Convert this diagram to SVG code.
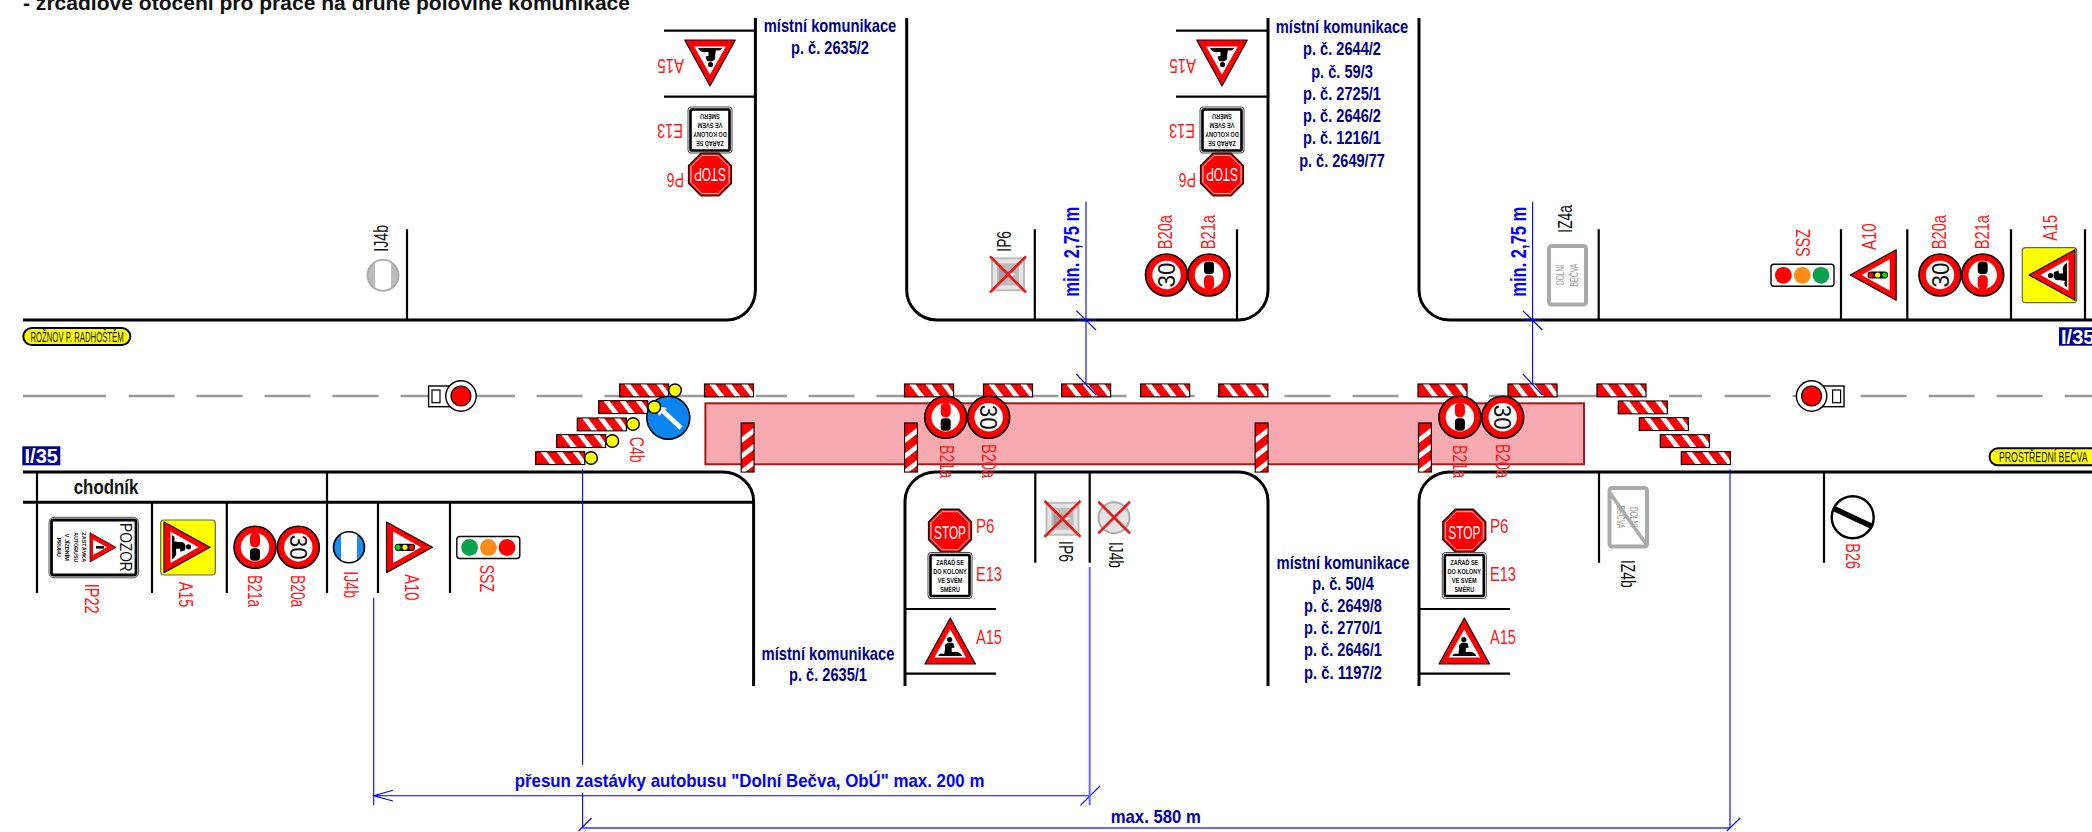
<svg xmlns="http://www.w3.org/2000/svg" xmlns:xlink="http://www.w3.org/1999/xlink" width="2092" height="832" viewBox="0 0 2092 832">
<style>
text{font-family:"Liberation Sans",Arial,sans-serif}
.l{font-size:20px;fill:#ff1a1a}
.k{font-size:20px;fill:#111}
.n{font-size:18.500px;font-weight:bold;fill:#000090;text-anchor:middle}
.m{font-size:21.500px;font-weight:bold;fill:#0000ff}
.e{font-size:7px;font-weight:bold;fill:#111;text-anchor:middle}
.s{font-size:18px;fill:#fff;text-anchor:middle}
.t{font-size:24px;fill:#111;text-anchor:middle}
.road{fill:none;stroke:#000;stroke-width:3}
.pole{fill:none;stroke:#000;stroke-width:2.2}
.dash{fill:none;stroke:#999;stroke-width:2.6}
.dim{fill:none;stroke:#0000ff;stroke-width:1.1}
.dim2{fill:none;stroke:#6666ff;stroke-width:2}
.x{fill:none;stroke:#f01414;stroke-width:2.6}
.lamp{fill:#ffff00;stroke:#000;stroke-width:1.4}
.ring{fill:#f00;stroke:#000;stroke-width:1.6}
.gs{font-size:10px;fill:#999;text-anchor:middle}
</style>
<defs>
<g id="bar"><rect x="0" y="0" width="49" height="12.8" fill="#f00" stroke="#000" stroke-width="1.2"/><path d="M5 .6H11L20 12.2H14ZM21 .6H27L36 12.2H30ZM37 .6H43L48.4 8V12.2H46Z" fill="#fff"/></g>
<g id="ring"><circle r="21" class="ring"/><circle r="14.200" fill="#fff"/></g>
<g id="b21"><use xlink:href="#ring" href="#ring"/><rect x="1" y="-5" width="12.500" height="10" rx="3.500" fill="#000"/><rect x="-14.500" y="-5" width="14.500" height="10" rx="4.500" fill="#f00"/></g>
<path id="digger" d="M-12 15C-11 12-8 12-6 13L-5 7C-6 4-4 2-1 1.500L3 2 4.500 6.500 1.500 7 1.500 11 4 11C7 10 11 12 12 15Z" fill="#000"/>
<g id="tri"><polygon points="0,-23 25.3,23 -25.3,23" fill="#f00" stroke="#111" stroke-width="1.2" stroke-linejoin="round"/><polygon points="0,-11.5 15.8,16.5 -15.8,16.5" fill="#fff"/></g>
<g id="a15"><use xlink:href="#tri" href="#tri"/><use xlink:href="#digger" href="#digger"/><circle cx="-.5" cy="-1.5" r="2.6" fill="#000"/></g>
<g id="a10"><use xlink:href="#tri" href="#tri"/><rect x="-3.6" y="-5.6" width="7.2" height="20.4" rx="3.4" fill="#000"/><circle cy="-2.2" r="2.6" fill="#f00"/><circle cy="4.5" r="2.6" fill="#ff0"/><circle cy="11.5" r="2.6" fill="#0d0"/></g>
<g id="oct"><polygon points="-9,-21.4 9,-21.4 21.4,-9 21.4,9 9,21.4 -9,21.4 -21.4,9 -21.4,-9" fill="#f00" stroke="#111" stroke-width="1.4"/><polygon points="-8,-19 8,-19 19,-8 19,8 8,19 -8,19 -19,8 -19,-8" fill="none" stroke="#fff" stroke-width=".8"/></g>
<g id="ebox"><rect x="-22" y="-23" width="44" height="46" rx="3" fill="#fff" stroke="#444" stroke-width="1"/><rect x="-19.5" y="-20.5" width="39" height="41" rx="1" fill="#fff" stroke="#000" stroke-width="2.6"/></g>
<g id="jside"><path d="M-8 -13.3A15.5 15.5 0 0 0-8 13.3ZM8 -13.3A15.5 15.5 0 0 1 8 13.3Z"/></g>
<g id="ip6"><rect x="-16" y="-16" width="32" height="32" fill="#e4e4e4" stroke="#bbb" stroke-width="2"/><rect x="-11" y="-11" width="22" height="22" fill="#bbb"/><path d="M-9 -8L8 0-9 8Z" fill="#a0a0a0"/><path d="M2 -2L8 0 2 2Z" fill="#fff"/><path class="x" d="M-18 -18L18 18M18 -18L-18 18"/></g>
<g id="lightbox"><rect x="-31.5" y="-11" width="63" height="22" rx="3" fill="#fff" stroke="#000" stroke-width="1.4"/></g>
</defs>

<text x="23" y="10" font-size="20" font-weight="bold" fill="#111" textLength="607" lengthAdjust="spacingAndGlyphs">- zrcadlové otočení pro práce na druhé polovině komunikace</text>

<g id="road">
<path class="road" d="M23 320H727A28.4 30 0 0 0 755.4 290V18"/>
<path class="road" d="M906.7 18V290A30 30 0 0 0 936.6 320H1238A30 30 0 0 0 1268 290V18"/>
<path class="road" d="M1419 18V290A31 30 0 0 0 1450 320H2092"/>
<path class="road" d="M23 472H722A31 29 0 0 1 753.6 501V686"/>
<path class="road" d="M905 686V501A31 29 0 0 1 936 472H1238A30 29 0 0 1 1268 501V686"/>
<path class="road" d="M1419 686V501A31 29 0 0 1 1450 472H2092"/>
<path class="road" d="M23 502.3H753"/>
<path class="dash" d="M23 396H106M128.600 396H174.600M196.500 396H242.500M264.500 396H310.500M332.500 396H378.500M400.500 396H432M476 396H515M536.500 396H582.500M604.500 396H650.500M672.500 396H718.500M756 396H787M808.500 396H854.500M876.500 396H922.500M944.500 396H990.500M1012.500 396H1058.500M1080.500 396H1126.500M1148.500 396H1194.500M1216.500 396H1262.500M1284.500 396H1330.500M1352.500 396H1398.500M1420.500 396H1466.500M1489 396H1597M1668.800 396H1702M1724.600 396H1770.600M1792.600 396H1800M1860.600 396H1906.600M1928.600 396H1974.600M1996.600 396H2042.600M2064.600 396H2092"/>
<path class="pole" d="M407 229.300V320M1034.800 229.300V320M1237 229.300V320M1598.700 229.300V320M1841 229.300V320M1907.300 229.300V320M2011 229.300V320M2085 229.300V320"/>
<path class="pole" d="M664 30.700H755M664 96.700H755M1176 30.700H1267M1176 96.700H1267"/>
<path class="pole" d="M37 472V593M327 472V593M152 502V593M226.800 502V593M378 502V593M450 502V593"/>
<path class="pole" d="M1035.300 472V562.700M1089.700 472V562.700M1599 472V562.700M1824 472V562.700"/>
<path class="pole" d="M905 609H996M905 673.700H996M1419 609H1510M1419 673.700H1510"/>
</g>

<g id="zone"><rect x="705.400" y="403.300" width="878.600" height="61" fill="#f6aab0" stroke="#a01b1b" stroke-width="2"/></g>

<g id="barriers">
<use xlink:href="#bar" href="#bar" x="619.600" y="384"/><use xlink:href="#bar" href="#bar" x="704.500" y="384"/><use xlink:href="#bar" href="#bar" x="904.500" y="384"/><use xlink:href="#bar" href="#bar" x="983.500" y="384"/><use xlink:href="#bar" href="#bar" x="1061.600" y="384"/><use xlink:href="#bar" href="#bar" x="1140.600" y="384"/><use xlink:href="#bar" href="#bar" x="1218.800" y="384"/><use xlink:href="#bar" href="#bar" x="1418" y="384"/><use xlink:href="#bar" href="#bar" x="1508" y="384"/><use xlink:href="#bar" href="#bar" x="1597" y="384"/>
<use xlink:href="#bar" href="#bar" x="598.700" y="400.700"/><use xlink:href="#bar" href="#bar" x="577.300" y="418"/><use xlink:href="#bar" href="#bar" x="556.700" y="434.700"/><use xlink:href="#bar" href="#bar" x="535.700" y="451.700"/>
<use xlink:href="#bar" href="#bar" x="1618.300" y="401"/><use xlink:href="#bar" href="#bar" x="1639.300" y="417.700"/><use xlink:href="#bar" href="#bar" x="1660.300" y="434.700"/><use xlink:href="#bar" href="#bar" x="1681.300" y="451.700"/>
<use xlink:href="#bar" href="#bar" transform="translate(754,423) rotate(90)"/><use xlink:href="#bar" href="#bar" transform="translate(917.400,423) rotate(90)"/><use xlink:href="#bar" href="#bar" transform="translate(1268,423) rotate(90)"/><use xlink:href="#bar" href="#bar" transform="translate(1431.300,423) rotate(90)"/>
</g>

<g id="sign-c4b">
<circle cx="668.300" cy="417.700" r="21.500" fill="#0a84f0" stroke="#000" stroke-width="1.6"/>
<path d="M681 428L663 411" stroke="#fff" stroke-width="4.500" fill="none"/><path d="M656 406L667 408 659 416Z" fill="#fff"/>
<circle class="lamp" cx="675" cy="390.300" r="6.300"/><circle class="lamp" cx="654.300" cy="407" r="6.300"/><circle class="lamp" cx="633" cy="424" r="6.300"/><circle class="lamp" cx="612.300" cy="441" r="6.300"/><circle class="lamp" cx="591" cy="458" r="6.300"/>
<text class="l" transform="translate(630,436.700) rotate(90)" textLength="26" lengthAdjust="spacingAndGlyphs">C4b</text>
</g>

<g id="roadlabel-left"><rect x="23.300" y="328" width="107" height="17" rx="8.500" fill="#ff0" stroke="#000" stroke-width="2"/><text x="30.400" y="342" font-size="14.500" fill="#111" textLength="93.300" lengthAdjust="spacingAndGlyphs">ROŽNOV P. RADHOŠTĚM</text></g>
<g id="roadlabel-right"><rect x="1989.500" y="448.300" width="110" height="17" rx="8.500" fill="#ff0" stroke="#000" stroke-width="2"/><text x="1999" y="462" font-size="14.500" fill="#111" textLength="88.500" lengthAdjust="spacingAndGlyphs">PROSTŘEDNÍ BEČVA</text></g>
<g id="roadnum-left"><rect x="22.300" y="446.300" width="38" height="19" fill="#000090"/><text x="24.500" y="463" font-size="21" font-weight="bold" fill="#fff" textLength="33.500" lengthAdjust="spacingAndGlyphs">I/35</text></g>
<g id="roadnum-right"><rect x="2059" y="327.300" width="33" height="18.400" fill="#000090"/><text x="2061" y="344" font-size="21" font-weight="bold" fill="#fff" textLength="33.500" lengthAdjust="spacingAndGlyphs">I/35</text></g>

<g id="light-left"><rect x="428.600" y="386" width="28" height="20.700" fill="#fff" stroke="#000" stroke-width="1.400"/><circle cx="461" cy="396" r="15.200" fill="#fff" stroke="#000" stroke-width="1.400"/><path d="M452 387H456V405H452Z" fill="#fff"/><rect x="432" y="390" width="8" height="12.700" fill="#fff" stroke="#000" stroke-width="1.200"/><circle cx="461" cy="396" r="10" fill="#f00" stroke="#000" stroke-width="1.200"/></g>
<g id="light-right"><rect x="1816" y="386" width="28" height="20.700" fill="#fff" stroke="#000" stroke-width="1.400"/><circle cx="1811.600" cy="396" r="15.200" fill="#fff" stroke="#000" stroke-width="1.400"/><path d="M1816 387H1821V405H1816Z" fill="#fff"/><rect x="1832.600" y="390" width="8" height="12.700" fill="#fff" stroke="#000" stroke-width="1.200"/><circle cx="1811.600" cy="396" r="10" fill="#f00" stroke="#000" stroke-width="1.200"/></g>

<g id="sign-ij4b-top"><g transform="translate(383,275.300)" fill="#bbb"><use xlink:href="#jside" href="#jside"/><circle r="15.500" fill="none" stroke="#aaa" stroke-width="1.800"/></g><text class="k" transform="translate(387.500,251.700) rotate(-90)" textLength="26.700" lengthAdjust="spacingAndGlyphs">IJ4b</text></g>

<g id="sign-ip6-top"><use xlink:href="#ip6" href="#ip6" transform="translate(1008,274.300)"/><text class="k" transform="translate(1011.200,251.700) rotate(-90)" textLength="20.700" lengthAdjust="spacingAndGlyphs">IP6</text></g>

<g id="sign-b20a-top1"><g transform="translate(1166.500,275)"><use xlink:href="#ring" href="#ring"/><text class="t" transform="rotate(-90) translate(0,8.500)" textLength="25" lengthAdjust="spacingAndGlyphs">30</text></g><text class="l" transform="translate(1172.300,249.300) rotate(-90)" textLength="34.300" lengthAdjust="spacingAndGlyphs">B20a</text></g>
<g id="sign-b21a-top1"><use xlink:href="#b21" href="#b21" transform="translate(1209,275) rotate(-90)"/><text class="l" transform="translate(1214.700,249.300) rotate(-90)" textLength="34.300" lengthAdjust="spacingAndGlyphs">B21a</text></g>

<g id="sign-iz4a"><rect x="1549" y="246" width="37" height="58.500" rx="2.500" fill="#fff" stroke="#aaa" stroke-width="4"/><text class="gs" transform="translate(1564,275) rotate(-90)" textLength="20" lengthAdjust="spacingAndGlyphs">DOLNÍ</text><text class="gs" transform="translate(1578,275) rotate(-90)" textLength="23" lengthAdjust="spacingAndGlyphs">BEČVA</text><text class="k" transform="translate(1572,232.700) rotate(-90)" textLength="27.700" lengthAdjust="spacingAndGlyphs">IZ4a</text></g>

<g id="sign-ssz-top"><use xlink:href="#lightbox" href="#lightbox" transform="translate(1802.500,275.300)"/><circle cx="1783.300" cy="275.300" r="8.400" fill="#f00"/><circle cx="1802.300" cy="275.300" r="8.400" fill="#ff8c14"/><circle cx="1821" cy="275.300" r="8.400" fill="#0aa050"/><text class="l" transform="translate(1810,256.700) rotate(-90)" textLength="27.700" lengthAdjust="spacingAndGlyphs">SSZ</text></g>
<g id="sign-a10-top"><use xlink:href="#a10" href="#a10" transform="translate(1873.200,275) rotate(-90)"/><text class="l" transform="translate(1876,250) rotate(-90)" textLength="26.700" lengthAdjust="spacingAndGlyphs">A10</text></g>
<g id="sign-b20a-top2"><g transform="translate(1940,275)"><use xlink:href="#ring" href="#ring"/><text class="t" transform="rotate(-90) translate(0,8.500)" textLength="25" lengthAdjust="spacingAndGlyphs">30</text></g><text class="l" transform="translate(1946,249.300) rotate(-90)" textLength="34.300" lengthAdjust="spacingAndGlyphs">B20a</text></g>
<g id="sign-b21a-top2"><use xlink:href="#b21" href="#b21" transform="translate(1982.700,275) rotate(-90)"/><text class="l" transform="translate(1989,249.300) rotate(-90)" textLength="34.300" lengthAdjust="spacingAndGlyphs">B21a</text></g>
<g id="sign-a15-top"><rect x="2022.300" y="247.700" width="54.400" height="55" rx="3.500" fill="#ff0" stroke="#665" stroke-width="1.200"/><use xlink:href="#a15" href="#a15" transform="translate(2052,275) rotate(-90)"/><text class="l" transform="translate(2057.300,240.700) rotate(-90)" textLength="25.700" lengthAdjust="spacingAndGlyphs">A15</text></g>

<g id="sign-a15-ul"><use xlink:href="#a15" href="#a15" transform="translate(710,63) rotate(180)"/><text class="l" transform="translate(684,59.300) rotate(180)" textLength="26.700" lengthAdjust="spacingAndGlyphs">A15</text></g>
<g id="sign-e13-ul"><g transform="translate(710,130) rotate(180)"><use xlink:href="#ebox" href="#ebox"/><text class="e" y="-11" textLength="27.700" lengthAdjust="spacingAndGlyphs">ZAŘAĎ SE</text><text class="e" y="-2" textLength="33.500" lengthAdjust="spacingAndGlyphs">DO KOLONY</text><text class="e" y="7" textLength="25" lengthAdjust="spacingAndGlyphs">VE SVÉM</text><text class="e" y="16" textLength="19.600" lengthAdjust="spacingAndGlyphs">SMĚRU</text></g><text class="l" transform="translate(683,124.300) rotate(180)" textLength="26" lengthAdjust="spacingAndGlyphs">E13</text></g>
<g id="sign-p6-ul"><g transform="translate(710,174.500) rotate(180)"><use xlink:href="#oct" href="#oct"/><text class="s" y="7" textLength="32" lengthAdjust="spacingAndGlyphs">STOP</text></g><text class="l" transform="translate(684,172.700) rotate(180)" textLength="17.300" lengthAdjust="spacingAndGlyphs">P6</text></g>

<g id="sign-a15-ur"><use xlink:href="#a15" href="#a15" transform="translate(1222,63) rotate(180)"/><text class="l" transform="translate(1196,59.300) rotate(180)" textLength="26.700" lengthAdjust="spacingAndGlyphs">A15</text></g>
<g id="sign-e13-ur"><g transform="translate(1222,130) rotate(180)"><use xlink:href="#ebox" href="#ebox"/><text class="e" y="-11" textLength="27.700" lengthAdjust="spacingAndGlyphs">ZAŘAĎ SE</text><text class="e" y="-2" textLength="33.500" lengthAdjust="spacingAndGlyphs">DO KOLONY</text><text class="e" y="7" textLength="25" lengthAdjust="spacingAndGlyphs">VE SVÉM</text><text class="e" y="16" textLength="19.600" lengthAdjust="spacingAndGlyphs">SMĚRU</text></g><text class="l" transform="translate(1195,124.300) rotate(180)" textLength="26" lengthAdjust="spacingAndGlyphs">E13</text></g>
<g id="sign-p6-ur"><g transform="translate(1222,174.500) rotate(180)"><use xlink:href="#oct" href="#oct"/><text class="s" y="7" textLength="32" lengthAdjust="spacingAndGlyphs">STOP</text></g><text class="l" transform="translate(1196,172.700) rotate(180)" textLength="17.300" lengthAdjust="spacingAndGlyphs">P6</text></g>

<g id="sign-b21a-z1"><use xlink:href="#b21" href="#b21" transform="translate(945.700,417.300) rotate(90)"/><text class="l" transform="translate(939.500,445) rotate(90)" textLength="33" lengthAdjust="spacingAndGlyphs">B21a</text></g>
<g id="sign-b20a-z1"><g transform="translate(988.700,417.300)"><use xlink:href="#ring" href="#ring"/><text class="t" transform="rotate(90) translate(0,8.500)" textLength="25" lengthAdjust="spacingAndGlyphs">30</text></g><text class="l" transform="translate(981.700,444) rotate(90)" textLength="34" lengthAdjust="spacingAndGlyphs">B20a</text></g>
<g id="sign-b21a-z2"><use xlink:href="#b21" href="#b21" transform="translate(1459.900,417.300) rotate(90)"/><text class="l" transform="translate(1453.200,445) rotate(90)" textLength="33" lengthAdjust="spacingAndGlyphs">B21a</text></g>
<g id="sign-b20a-z2"><g transform="translate(1502.700,417.300)"><use xlink:href="#ring" href="#ring"/><text class="t" transform="rotate(90) translate(0,8.500)" textLength="25" lengthAdjust="spacingAndGlyphs">30</text></g><text class="l" transform="translate(1495.600,444) rotate(90)" textLength="34" lengthAdjust="spacingAndGlyphs">B20a</text></g>

<g id="sign-ip22"><rect x="49" y="517.300" width="89.500" height="60.500" rx="5" fill="#fff" stroke="#555" stroke-width="1"/><rect x="51.500" y="520" width="84.500" height="55" rx="2" fill="#fff" stroke="#000" stroke-width="2.800"/>
<polygon points="116,547.300 90,532.700 90,562" fill="#f00" stroke="#111" stroke-width=".8" stroke-linejoin="round"/><polygon points="107,547.300 93,539.500 93,555" fill="#fff"/><path d="M96 546H104V548.600H96Z" fill="#000"/>
<text font-size="16" fill="#111" transform="translate(120,523) rotate(90)" textLength="48.700" lengthAdjust="spacingAndGlyphs">POZOR</text>
<text class="e" style="font-size:6px" transform="translate(82,547.300) rotate(90)" textLength="30" lengthAdjust="spacingAndGlyphs">ZASTÁVKA</text><text class="e" style="font-size:6px" transform="translate(73.500,547.300) rotate(90)" textLength="30" lengthAdjust="spacingAndGlyphs">AUTOBUSU</text><text class="e" style="font-size:6px" transform="translate(65,547.300) rotate(90)" textLength="27" lengthAdjust="spacingAndGlyphs">V JÍZDNÍM</text><text class="e" style="font-size:6px" transform="translate(57,547.300) rotate(90)" textLength="19" lengthAdjust="spacingAndGlyphs">PRUHU</text>
<text class="l" transform="translate(85,583.700) rotate(90)" textLength="30" lengthAdjust="spacingAndGlyphs">IP22</text></g>
<g id="sign-a15-left"><rect x="160.700" y="520" width="54.600" height="55" rx="3.500" fill="#ff0" stroke="#665" stroke-width="1.200"/><use xlink:href="#a15" href="#a15" transform="translate(187,547.300) rotate(90)"/><text class="l" transform="translate(179,581.700) rotate(90)" textLength="25.700" lengthAdjust="spacingAndGlyphs">A15</text></g>
<g id="sign-b21a-left"><use xlink:href="#b21" href="#b21" transform="translate(255,547.300) rotate(90)"/><text class="l" transform="translate(248,575) rotate(90)" textLength="32.300" lengthAdjust="spacingAndGlyphs">B21a</text></g>
<g id="sign-b20a-left"><g transform="translate(298.300,547.300)"><use xlink:href="#ring" href="#ring"/><text class="t" transform="rotate(90) translate(0,8.500)" textLength="25" lengthAdjust="spacingAndGlyphs">30</text></g><text class="l" transform="translate(291,575) rotate(90)" textLength="32.300" lengthAdjust="spacingAndGlyphs">B20a</text></g>
<g id="sign-ij4b-left"><g transform="translate(349,547.300)" fill="#1b8cf0"><circle r="15.500" fill="#fff"/><use xlink:href="#jside" href="#jside"/><circle r="15.500" fill="none" stroke="#000" stroke-width="1.600"/></g><text class="l" transform="translate(344,571.300) rotate(90)" textLength="26.700" lengthAdjust="spacingAndGlyphs">IJ4b</text></g>
<g id="sign-a10-left"><use xlink:href="#a10" href="#a10" transform="translate(409.500,547.300) rotate(90)"/><text class="l" transform="translate(405,574.300) rotate(90)" textLength="26" lengthAdjust="spacingAndGlyphs">A10</text></g>
<g id="sign-ssz-left"><use xlink:href="#lightbox" href="#lightbox" transform="translate(488.300,547.500)"/><circle cx="469.600" cy="547.500" r="8.400" fill="#0aa050"/><circle cx="488.400" cy="547.500" r="8.400" fill="#ff8c14"/><circle cx="507" cy="547.500" r="8.400" fill="#f00"/><text class="l" transform="translate(480,564.700) rotate(90)" textLength="27.300" lengthAdjust="spacingAndGlyphs">SSZ</text></g>

<g id="sign-p6-m"><g transform="translate(950,530.700)"><use xlink:href="#oct" href="#oct"/><text class="s" y="8" textLength="32" lengthAdjust="spacingAndGlyphs">STOP</text></g><text class="l" x="976" y="532.700" textLength="18.500" lengthAdjust="spacingAndGlyphs">P6</text></g>
<g id="sign-e13-m"><g transform="translate(950,575.500)"><use xlink:href="#ebox" href="#ebox"/><text class="e" y="-10.500" textLength="27.700" lengthAdjust="spacingAndGlyphs">ZAŘAĎ SE</text><text class="e" y="-1.500" textLength="33.500" lengthAdjust="spacingAndGlyphs">DO KOLONY</text><text class="e" y="7.500" textLength="25" lengthAdjust="spacingAndGlyphs">VE SVÉM</text><text class="e" y="16.500" textLength="19.600" lengthAdjust="spacingAndGlyphs">SMĚRU</text></g><text class="l" x="976" y="581" textLength="26" lengthAdjust="spacingAndGlyphs">E13</text></g>
<g id="sign-a15-m"><use xlink:href="#a15" href="#a15" transform="translate(950.200,641)"/><text class="l" x="976" y="644.300" textLength="26" lengthAdjust="spacingAndGlyphs">A15</text></g>

<g id="sign-p6-r"><g transform="translate(1464.300,530.700)"><use xlink:href="#oct" href="#oct"/><text class="s" y="8" textLength="32" lengthAdjust="spacingAndGlyphs">STOP</text></g><text class="l" x="1490" y="532.700" textLength="18.500" lengthAdjust="spacingAndGlyphs">P6</text></g>
<g id="sign-e13-r"><g transform="translate(1464.300,575.500)"><use xlink:href="#ebox" href="#ebox"/><text class="e" y="-10.500" textLength="27.700" lengthAdjust="spacingAndGlyphs">ZAŘAĎ SE</text><text class="e" y="-1.500" textLength="33.500" lengthAdjust="spacingAndGlyphs">DO KOLONY</text><text class="e" y="7.500" textLength="25" lengthAdjust="spacingAndGlyphs">VE SVÉM</text><text class="e" y="16.500" textLength="19.600" lengthAdjust="spacingAndGlyphs">SMĚRU</text></g><text class="l" x="1490" y="581" textLength="26" lengthAdjust="spacingAndGlyphs">E13</text></g>
<g id="sign-a15-r"><use xlink:href="#a15" href="#a15" transform="translate(1464.300,641)"/><text class="l" x="1490" y="644.300" textLength="26" lengthAdjust="spacingAndGlyphs">A15</text></g>

<g id="sign-ip6-low"><use xlink:href="#ip6" href="#ip6" transform="translate(1062.500,518.800)"/><text class="k" transform="translate(1058.500,541) rotate(90)" textLength="21" lengthAdjust="spacingAndGlyphs">IP6</text></g>
<g id="sign-ij4b-low"><circle cx="1114" cy="517.700" r="15.500" fill="#e4e4e4" stroke="#aaa" stroke-width="2"/><path class="x" d="M1098.300 501.700L1130 533.300M1130 501.700L1098.300 533.300"/><text class="k" transform="translate(1108.500,542) rotate(90)" textLength="26" lengthAdjust="spacingAndGlyphs">IJ4b</text></g>
<g id="sign-iz4b"><rect x="1609.500" y="488" width="37.500" height="58.500" rx="2.500" fill="#fff" stroke="#aaa" stroke-width="4"/><text class="gs" transform="translate(1630,517) rotate(90)" textLength="20" lengthAdjust="spacingAndGlyphs">DOLNÍ</text><text class="gs" transform="translate(1617,517) rotate(90)" textLength="23" lengthAdjust="spacingAndGlyphs">BEČVA</text><path d="M1610 493L1646.700 545" stroke="#aaa" stroke-width="3.500" fill="none"/><text class="k" transform="translate(1621,560) rotate(90)" textLength="27.700" lengthAdjust="spacingAndGlyphs">IZ4b</text></g>
<g id="sign-b26"><circle cx="1852.700" cy="517.300" r="21" fill="#fff" stroke="#000" stroke-width="2.400"/><path d="M1833.300 508.300L1872.700 526.700" stroke="#000" stroke-width="5.500" fill="none"/><text class="l" transform="translate(1845.700,543.300) rotate(90)" textLength="25.700" lengthAdjust="spacingAndGlyphs">B26</text></g>

<g id="label-mk-2635-2"><text class="n" x="830" y="32.300" textLength="132.600" lengthAdjust="spacingAndGlyphs">místní komunikace</text><text class="n" x="830" y="54.300" textLength="78" lengthAdjust="spacingAndGlyphs">p. č. 2635/2</text></g>
<g id="label-mk-2644"><text class="n" x="1342" y="33.300" textLength="132.600" lengthAdjust="spacingAndGlyphs">místní komunikace</text><text class="n" x="1342" y="55" textLength="78" lengthAdjust="spacingAndGlyphs">p. č. 2644/2</text><text class="n" x="1342" y="77.700" textLength="61.600" lengthAdjust="spacingAndGlyphs">p. č. 59/3</text><text class="n" x="1342" y="100" textLength="78" lengthAdjust="spacingAndGlyphs">p. č. 2725/1</text><text class="n" x="1342" y="121.700" textLength="78" lengthAdjust="spacingAndGlyphs">p. č. 2646/2</text><text class="n" x="1342" y="144.300" textLength="78" lengthAdjust="spacingAndGlyphs">p. č. 1216/1</text><text class="n" x="1342" y="166.700" textLength="85.700" lengthAdjust="spacingAndGlyphs">p. č. 2649/77</text></g>
<g id="label-mk-2635-1"><text class="n" x="828" y="660.300" textLength="133" lengthAdjust="spacingAndGlyphs">místní komunikace</text><text class="n" x="828" y="681.300" textLength="78" lengthAdjust="spacingAndGlyphs">p. č. 2635/1</text></g>
<g id="label-mk-50-4"><text class="n" x="1343" y="568.700" textLength="133" lengthAdjust="spacingAndGlyphs">místní komunikace</text><text class="n" x="1343" y="589.700" textLength="61.600" lengthAdjust="spacingAndGlyphs">p. č. 50/4</text><text class="n" x="1343" y="612" textLength="78" lengthAdjust="spacingAndGlyphs">p. č. 2649/8</text><text class="n" x="1343" y="634.300" textLength="78" lengthAdjust="spacingAndGlyphs">p. č. 2770/1</text><text class="n" x="1343" y="656.300" textLength="78" lengthAdjust="spacingAndGlyphs">p. č. 2646/1</text><text class="n" x="1343" y="678.700" textLength="78" lengthAdjust="spacingAndGlyphs">p. č. 1197/2</text></g>
<g id="label-chodnik"><text x="73.700" y="494.300" font-size="20" font-weight="bold" fill="#111" textLength="64.700" lengthAdjust="spacingAndGlyphs">chodník</text></g>

<g id="connectors">
<path class="dim" d="M1086 201.700V384M1076.300 310.700L1096 330M1076.300 320H1096M1076.300 374L1096 395"/>
<path class="dim" d="M1532.600 201.700V384M1522.800 310.700L1542.400 330M1522.800 320H1542.400M1522.800 374L1542.400 395"/>
<path class="dim" d="M373.700 597.700V805.300M373.700 795.700H1090M392.900 790.300L373.700 795.700 392.900 801M1080.400 805.300L1100 786"/>
<path class="dim" d="M582.600 469.300V764.700M582.600 793V828"/>
<path class="dim" d="M1730 469.300V828"/>
<path class="dim2" d="M1089.700 567V805.300"/>
<path class="dim2" d="M582.600 828H1730"/>
<path class="dim" d="M578.600 831L591.500 818M1726.800 831L1740.200 818"/>
</g>
<g id="dim-labels">
<text class="m" transform="translate(1078.500,296.700) rotate(-90)" textLength="90" lengthAdjust="spacingAndGlyphs">min. 2,75 m</text>
<text class="m" transform="translate(1525.500,296.700) rotate(-90)" textLength="90" lengthAdjust="spacingAndGlyphs">min. 2,75 m</text>
<text x="514.700" y="787" font-size="19" font-weight="bold" fill="#0000ff" textLength="469.700" lengthAdjust="spacingAndGlyphs">přesun zastávky autobusu "Dolní Bečva, ObÚ" max. 200 m</text>
<text x="1110.700" y="822.700" font-size="19" font-weight="bold" fill="#0000b0" textLength="90.200" lengthAdjust="spacingAndGlyphs">max. 580 m</text>
</g>
</svg>
